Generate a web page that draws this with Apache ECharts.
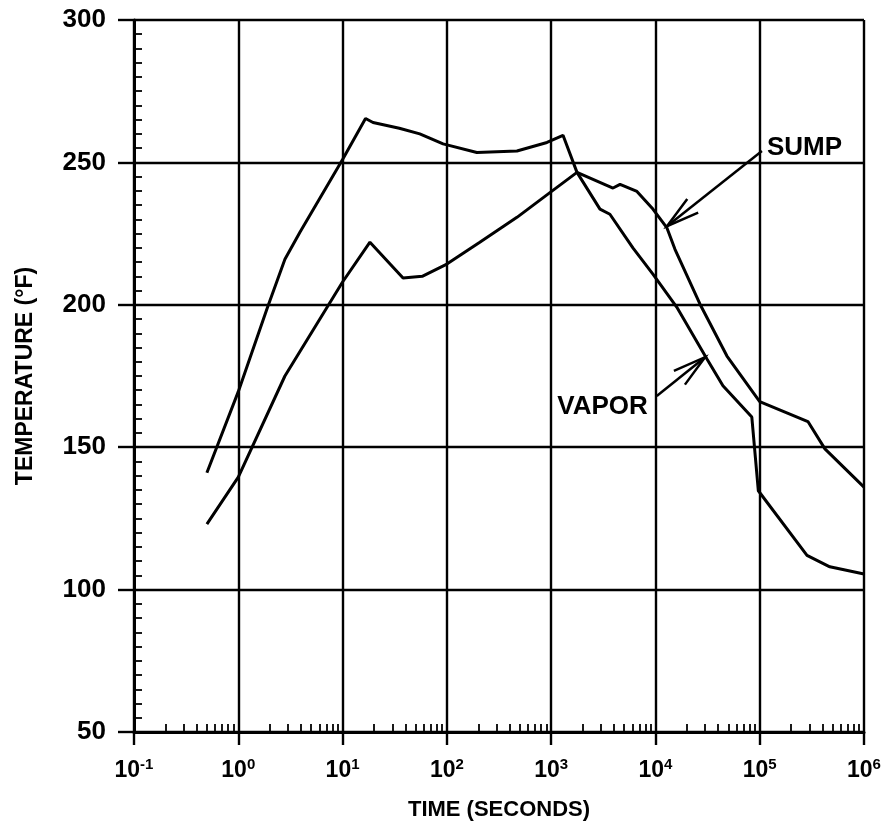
<!DOCTYPE html>
<html>
<head>
<meta charset="utf-8">
<script src="https://cdn.jsdelivr.net/npm/echarts@6/dist/echarts.min.js"></script>
<style>
html,body{margin:0;padding:0;background:#fff;}
#main{width:892px;height:840px;}
</style>
</head>
<body>
<div id="main"></div>
<script>
// ---- data (time in seconds, temperature in °F) ----
const vaporTime = [0.5, 1.0, 1.9, 2.8, 3.9, 10, 16.6, 19.6, 35, 55, 92, 194, 470, 912, 1300, 1770, 2940, 3660, 6080, 9460, 16000, 31200, 44400, 84000, 97000, 284000, 470000, 1000000];
const vaporTemp = [141, 169.5, 199, 216, 225.5, 251, 265.4, 264, 262, 260, 256.5, 253.5, 254, 257, 259.5, 246.5, 233.6, 231.8, 220, 210.8, 199.2, 181, 171.6, 160.6, 134.7, 112, 108, 105.5];

const sumpTime = [0.5, 1.0, 2.8, 10, 18.3, 38, 58, 100, 207, 470, 973, 1770, 3920, 4580, 6650, 9460, 12900, 15400, 26700, 48500, 100000, 290000, 422000, 1000000];
const sumpTemp = [123, 139.5, 175, 208, 222, 209.4, 210, 214.3, 222, 230.7, 239.4, 246.5, 241, 242.3, 239.8, 233.6, 227, 219.5, 200.3, 182, 166, 159, 149.4, 136];

const xMin = 0.1, xMax = 1e6;
const yMin = 50, yMax = 300, yStep = 50, yMinorStep = 5;
const xMinorTicks = [];
for (let e = -1; e < 6; e++) { for (let m = 2; m <= 9; m++) xMinorTicks.push(+(m * Math.pow(10, e)).toPrecision(6)); }

// annotations (data coordinates)
const sumpLabel = 'SUMP', vaporLabel = 'VAPOR';
const sumpArrow = { tail: [105000, 254], tip: [12900, 227.6] };
const vaporArrow = { tail: [10300, 168], tip: [29900, 181.6] };

const FONT = '"Liberation Sans", Arial, Helvetica, sans-serif';
const BLK = '#000';

const chart = echarts.init(document.getElementById('main'), null, { renderer: 'canvas' });

const option = {
  animation: false,
  backgroundColor: '#fff',
  grid: { left: 134, right: 28, top: 20, bottom: 108, containLabel: false },
  xAxis: [
    {
      type: 'log', logBase: 10, min: xMin, max: xMax, position: 'bottom',
      name: 'TIME (SECONDS)', nameLocation: 'middle', nameGap: 67,
      nameTextStyle: { fontFamily: FONT, fontWeight: 'bold', fontSize: 22, color: BLK },
      axisLine: { show: true, lineStyle: { color: BLK, width: 3 } },
      axisTick: { show: true, inside: false, length: 13, lineStyle: { color: BLK, width: 2.4 } },
      splitLine: { show: true, lineStyle: { color: BLK, width: 2.4 } },
      minorTick: { show: false },
      axisLabel: {
        margin: 25,
        formatter: function (v) {
          const e = Math.round(Math.log10(v));
          return '{b|10}{s|' + e + '}';
        },
        rich: {
          b: { fontFamily: FONT, fontWeight: 'bold', fontSize: 23, color: BLK, lineHeight: 25, verticalAlign: 'bottom' },
          s: { fontFamily: FONT, fontWeight: 'bold', fontSize: 15, color: BLK, lineHeight: 15, verticalAlign: 'top' }
        }
      }
    },
    {
      type: 'log', logBase: 10, min: xMin, max: xMax, position: 'bottom',
      axisLine: { show: false },
      axisLabel: { show: false },
      splitLine: { show: false },
      axisTick: { show: true, inside: true, length: 8, customValues: xMinorTicks, lineStyle: { color: BLK, width: 1.8 } }
    }
  ],
  yAxis: [
    {
      type: 'value', min: yMin, max: yMax, interval: yStep, position: 'left',
      name: 'TEMPERATURE (°F)', nameLocation: 'middle', nameGap: 97, nameRotate: 90,
      nameTextStyle: { fontFamily: FONT, fontWeight: 'bold', fontSize: 23, color: BLK },
      axisLine: { show: true, lineStyle: { color: BLK, width: 3 } },
      axisTick: { show: true, inside: false, length: 16, lineStyle: { color: BLK, width: 2.4 } },
      splitLine: { show: true, lineStyle: { color: BLK, width: 2.4 } },
      axisLabel: { margin: 28, fontFamily: FONT, fontWeight: 'bold', fontSize: 26, color: BLK }
    },
    {
      type: 'value', min: yMin, max: yMax, interval: yMinorStep, position: 'left',
      axisLine: { show: false },
      axisLabel: { show: false },
      splitLine: { show: false },
      axisTick: { show: true, inside: true, length: 8, lineStyle: { color: BLK, width: 1.8 } }
    }
  ],
  series: [
    {
      name: 'VAPOR', type: 'line', xAxisIndex: 0, yAxisIndex: 0, symbol: 'none', smooth: false,
      lineStyle: { color: BLK, width: 3 },
      data: vaporTime.map((t, i) => [t, vaporTemp[i]])
    },
    {
      name: 'SUMP', type: 'line', xAxisIndex: 0, yAxisIndex: 0, symbol: 'none', smooth: false,
      lineStyle: { color: BLK, width: 3 },
      data: sumpTime.map((t, i) => [t, sumpTemp[i]])
    }
  ]
};
chart.setOption(option);

function px(p) { return chart.convertToPixel({ xAxisIndex: 0, yAxisIndex: 0 }, p); }
function arrowGraphics(a) {
  const t = px(a.tail), h = px(a.tip);
  const ang = Math.atan2(t[1] - h[1], t[0] - h[0]);
  const L = 34, spread = 15 * Math.PI / 180;
  const h1 = [h[0] + L * Math.cos(ang + spread), h[1] + L * Math.sin(ang + spread)];
  const h2 = [h[0] + L * Math.cos(ang - spread), h[1] + L * Math.sin(ang - spread)];
  return [
    { type: 'polyline', shape: { points: [t, h] }, style: { stroke: BLK, lineWidth: 2.5, fill: null }, z: 10 },
    { type: 'polyline', shape: { points: [h1, h, h2] }, style: { stroke: BLK, lineWidth: 2.5, fill: null }, z: 10 }
  ];
}
const sT = px(sumpArrow.tail), vT = px(vaporArrow.tail);
const graphics = [].concat(
  arrowGraphics(sumpArrow),
  arrowGraphics(vaporArrow),
  [
    { type: 'text', x: sT[0] + 5, y: sT[1] - 3, z: 11,
      style: { text: sumpLabel, font: 'bold 26px ' + FONT, fill: BLK, align: 'left', verticalAlign: 'middle', backgroundColor: '#fff' } },
    { type: 'text', x: vT[0] - 9, y: vT[1] + 11, z: 11,
      style: { text: vaporLabel, font: 'bold 26px ' + FONT, fill: BLK, align: 'right', verticalAlign: 'middle', backgroundColor: '#fff' } }
  ]
);
chart.setOption({ graphic: graphics });
</script>
</body>
</html>
